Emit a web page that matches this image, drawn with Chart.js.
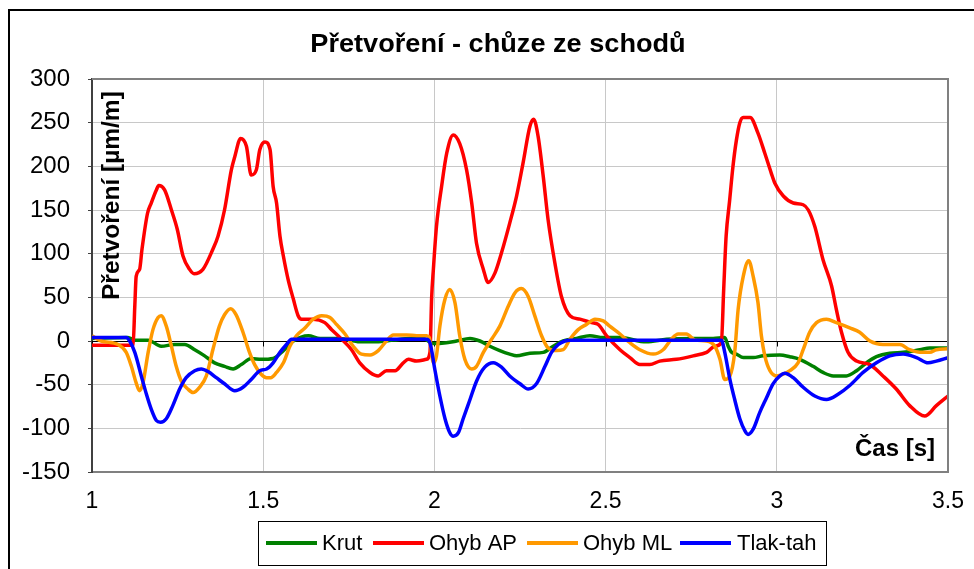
<!DOCTYPE html>
<html>
<head>
<meta charset="utf-8">
<title>Přetvoření - chůze ze schodů</title>
<script src="https://cdn.jsdelivr.net/npm/chart.js@4/dist/chart.umd.min.js"></script>
<style>
    html, body { margin: 0; padding: 0; background: #fff; }
    #wrap { width: 974px; height: 569px; }
</style>
</head>
<body>
<div id="wrap"><canvas id="strainChart" width="974" height="569"></canvas></div>
<script>
// Ticks
const xTicks = [1, 1.5, 2, 2.5, 3, 3.5];
const yTicks = [-150, -100, -50, 0, 50, 100, 150, 200, 250, 300];

// Series: [time s, strain µm/m]
const krut = [
    [1.000, 3], [1.105, 4], [1.125, 1], [1.164, 1], [1.202, -6], [1.241, -4], [1.271, -4],
    [1.300, -10], [1.329, -17], [1.358, -25], [1.387, -29], [1.412, -32], [1.436, -27],
    [1.465, -20], [1.494, -21], [1.529, -20], [1.559, -11], [1.588, 0], [1.632, 6], [1.666, 3],
    [1.724, 3], [1.782, -1], [1.831, -1], [1.880, 1], [1.928, 3], [1.967, 3], [1.997, -3],
    [2.035, -2], [2.065, 0], [2.104, 3], [2.133, 0], [2.162, -6], [2.191, -11], [2.220, -15],
    [2.240, -17], [2.279, -14], [2.318, -13], [2.347, -6], [2.376, 0], [2.415, 3], [2.454, 6],
    [2.493, 4], [2.542, 4], [2.619, -1], [2.678, 2], [2.756, 3], [2.814, 3], [2.848, 4],
    [2.858, -6], [2.868, -13], [2.882, -15], [2.902, -19], [2.931, -19], [2.960, -17],
    [3.009, -16], [3.038, -18], [3.067, -21], [3.106, -29], [3.135, -36], [3.165, -40],
    [3.203, -40], [3.233, -34], [3.262, -25], [3.291, -18], [3.330, -14], [3.369, -13],
    [3.418, -10], [3.447, -8], [3.500, -8]
];

const ohybAP = [
    [1.000, -5], [1.110, -5], [1.120, -4], [1.125, 40], [1.129, 74], [1.139, 82], [1.146, 105],
    [1.162, 146], [1.173, 158], [1.188, 173], [1.195, 178], [1.212, 173], [1.232, 150],
    [1.249, 128], [1.266, 97], [1.285, 82], [1.298, 77], [1.324, 82], [1.353, 105], [1.368, 120],
    [1.387, 150], [1.407, 196], [1.417, 211], [1.434, 232], [1.451, 223], [1.465, 190],
    [1.480, 196], [1.490, 219], [1.505, 228], [1.520, 219], [1.529, 177], [1.539, 158],
    [1.549, 120], [1.559, 97], [1.573, 70], [1.588, 48], [1.602, 29], [1.612, 25], [1.646, 25],
    [1.680, 21], [1.700, 13], [1.729, 2], [1.758, -10], [1.782, -25], [1.812, -36], [1.836, -40],
    [1.860, -34], [1.885, -34], [1.909, -25], [1.924, -21], [1.948, -23], [1.977, -21],
    [1.987, -13], [1.992, 50], [1.997, 82], [2.006, 131], [2.021, 177], [2.036, 215],
    [2.055, 236], [2.074, 226], [2.094, 196], [2.109, 158], [2.123, 112], [2.143, 82],
    [2.157, 67], [2.177, 78], [2.196, 101], [2.220, 135], [2.240, 166], [2.259, 204],
    [2.279, 246], [2.290, 254], [2.303, 234], [2.318, 188], [2.332, 139], [2.352, 89],
    [2.371, 51], [2.396, 29], [2.425, 25], [2.459, 21], [2.478, 19], [2.503, 6], [2.542, -10],
    [2.571, -19], [2.600, -27], [2.629, -27], [2.658, -23], [2.707, -21], [2.756, -17],
    [2.795, -13], [2.819, -6], [2.838, -2], [2.845, 60], [2.852, 120], [2.862, 160],
    [2.872, 200], [2.882, 230], [2.892, 250], [2.902, 256], [2.922, 256], [2.945, 238],
    [2.965, 215], [2.984, 192], [2.994, 181], [3.019, 166], [3.048, 158], [3.077, 156],
    [3.092, 150], [3.111, 131], [3.135, 93], [3.160, 63], [3.174, 36], [3.189, 10],
    [3.208, -13], [3.233, -23], [3.272, -27], [3.310, -40], [3.349, -55], [3.388, -74],
    [3.432, -86], [3.466, -74], [3.500, -63]
];

const ohybML = [
    [1.000, 6], [1.027, 0], [1.076, -4], [1.100, -13], [1.115, -29], [1.129, -48], [1.139, -57],
    [1.149, -48], [1.164, -13], [1.178, 13], [1.193, 27], [1.202, 29], [1.217, 17], [1.232, -6],
    [1.246, -29], [1.261, -46], [1.280, -55], [1.295, -59], [1.314, -53], [1.334, -40],
    [1.353, -10], [1.372, 17], [1.387, 30], [1.405, 37], [1.421, 30], [1.441, 10], [1.460, -13],
    [1.475, -27], [1.494, -38], [1.510, -42], [1.522, -42], [1.539, -36], [1.559, -25],
    [1.578, -6], [1.597, 6], [1.622, 15], [1.646, 25], [1.671, 29], [1.695, 27], [1.714, 19],
    [1.739, 8], [1.763, -6], [1.787, -15], [1.812, -16], [1.836, -11], [1.860, 0], [1.880, 7],
    [1.919, 7], [1.948, 6], [1.977, 6], [1.985, 4], [1.997, -25], [2.006, -17], [2.016, 17],
    [2.031, 48], [2.045, 59], [2.060, 44], [2.074, 6], [2.089, -21], [2.109, -32], [2.123, -29],
    [2.143, -13], [2.167, 2], [2.191, 17], [2.216, 40], [2.235, 55], [2.254, 60], [2.274, 51],
    [2.293, 29], [2.313, 6], [2.332, -8], [2.357, -11], [2.376, -10], [2.396, 2], [2.420, 13],
    [2.444, 19], [2.469, 25], [2.493, 23], [2.512, 17], [2.542, 8], [2.571, -2], [2.600, -10],
    [2.639, -15], [2.668, -10], [2.692, 2], [2.712, 8], [2.736, 8], [2.761, 1], [2.795, 0],
    [2.819, -6], [2.834, -21], [2.848, -44], [2.863, -40], [2.877, -13], [2.887, 36],
    [2.902, 74], [2.918, 92], [2.931, 74], [2.945, 44], [2.955, 6], [2.965, -17], [2.980, -34],
    [2.999, -40], [3.019, -38], [3.038, -34], [3.062, -25], [3.077, -10], [3.096, 10],
    [3.116, 21], [3.145, 25], [3.174, 21], [3.213, 15], [3.242, 10], [3.272, 0], [3.310, -4],
    [3.359, -4], [3.388, -10], [3.418, -13], [3.447, -13], [3.466, -10], [3.500, -9]
];

const tlakTah = [
    [1.000, 4], [1.100, 4], [1.110, 0], [1.125, -13], [1.144, -40], [1.159, -61], [1.173, -78],
    [1.188, -91], [1.200, -93], [1.217, -89], [1.236, -74], [1.256, -55], [1.275, -42],
    [1.300, -34], [1.319, -32], [1.339, -35], [1.363, -42], [1.387, -49], [1.417, -57],
    [1.441, -53], [1.465, -44], [1.490, -34], [1.510, -32], [1.529, -25], [1.549, -13],
    [1.568, -4], [1.583, 2], [1.977, 2], [1.987, -2], [2.001, -32], [2.016, -63], [2.031, -89],
    [2.045, -105], [2.055, -109], [2.070, -105], [2.084, -89], [2.104, -67], [2.123, -46],
    [2.147, -30], [2.172, -25], [2.196, -30], [2.220, -40], [2.250, -49], [2.274, -55],
    [2.298, -49], [2.323, -29], [2.342, -13], [2.362, -4], [2.381, 0], [2.396, 1], [2.838, 1],
    [2.848, -13], [2.863, -44], [2.877, -67], [2.892, -89], [2.907, -103], [2.916, -107],
    [2.931, -101], [2.950, -82], [2.970, -65], [2.989, -49], [3.009, -40], [3.023, -37],
    [3.048, -42], [3.077, -53], [3.111, -63], [3.145, -67], [3.179, -61], [3.213, -51],
    [3.252, -36], [3.291, -25], [3.330, -17], [3.369, -15], [3.408, -19], [3.442, -25],
    [3.466, -23], [3.500, -19]
];

const seriesNames = ['Krut', 'Ohyb AP', 'Ohyb ML', 'Tlak-tah'];
const seriesColors = ['#008000', '#ff0000', '#ff9900', '#0000ff'];

const FONT = "'Liberation Sans', Arial, sans-serif";

function toPoints(arr) {
    return arr.map(p => ({ x: p[0], y: p[1] }));
}

function makeDataset(i, arr) {
    return {
        label: seriesNames[i],
        data: toPoints(arr),
        borderColor: seriesColors[i],
        backgroundColor: seriesColors[i],
        borderWidth: 3.5,
        pointRadius: 0,
        cubicInterpolationMode: 'monotone',
        fill: false,
        // Excel draws later series on top
        order: 4 - i
    };
}

// text drawn a little wider, like the source picture
function wideText(ctx, text, x, y, sx) {
    ctx.save();
    ctx.translate(x, y);
    ctx.scale(sx, 1);
    ctx.fillText(text, 0, 0);
    ctx.restore();
}

// Frame, titles, legend and the zero-line ticks
const decorations = {
    id: 'decorations',
    beforeDraw(chart) {
        const ctx = chart.ctx;
        ctx.save();
        ctx.fillStyle = '#ffffff';
        ctx.fillRect(0, 0, chart.width, chart.height);
        ctx.restore();
    },
    beforeDatasetsDraw(chart) {
        const ctx = chart.ctx;
        const xs = chart.scales.x, ys = chart.scales.y;
        const y0 = Math.round(ys.getPixelForValue(0)) + 0.5;
        ctx.save();
        ctx.strokeStyle = '#000000';
        ctx.lineWidth = 1;
        ctx.beginPath();
        ctx.moveTo(chart.chartArea.left, y0);
        ctx.lineTo(chart.chartArea.right, y0);
        xTicks.forEach(v => {
            const px = Math.round(xs.getPixelForValue(v)) + 0.5;
            ctx.moveTo(px, y0);
            ctx.lineTo(px, y0 + 5);
        });
        ctx.stroke();
        ctx.restore();
    },
    afterDraw(chart) {
        const ctx = chart.ctx;
        const a = chart.chartArea;
        ctx.save();

        // plot border top / right
        ctx.strokeStyle = '#808080';
        ctx.lineWidth = 2;
        ctx.beginPath();
        ctx.moveTo(a.left, a.top);
        ctx.lineTo(a.right, a.top);
        ctx.lineTo(a.right, a.bottom);
        ctx.stroke();

        // outer frame (runs off the right and bottom edge)
        ctx.strokeStyle = '#000000';
        ctx.lineWidth = 2;
        ctx.strokeRect(9, 10, 1000, 600);

        ctx.fillStyle = '#000000';

        // chart title
        ctx.font = 'bold 25px ' + FONT;
        ctx.textAlign = 'center';
        ctx.textBaseline = 'alphabetic';
        wideText(ctx, 'Přetvoření - chůze ze schodů', 498, 52, 1.085);

        // x axis title
        ctx.font = 'bold 24px ' + FONT;
        ctx.textAlign = 'right';
        ctx.fillText('Čas [s]', 935, 456);

        // y axis title
        ctx.save();
        ctx.translate(119, 300);
        ctx.rotate(-Math.PI / 2);
        ctx.font = 'bold 24.5px ' + FONT;
        ctx.textAlign = 'left';
        ctx.fillText('Přetvoření [µm/m]', 0, 0);
        ctx.restore();

        // legend box
        ctx.strokeStyle = '#000000';
        ctx.lineWidth = 1;
        ctx.strokeRect(258.5, 521.5, 568, 44);
        const lineX = [266, 373, 527, 680];
        const textX = [322, 429, 583, 737];
        ctx.font = '22px ' + FONT;
        ctx.textAlign = 'left';
        ctx.textBaseline = 'middle';
        for (let i = 0; i < seriesNames.length; i++) {
            ctx.strokeStyle = seriesColors[i];
            ctx.lineWidth = 4;
            ctx.beginPath();
            ctx.moveTo(lineX[i], 543);
            ctx.lineTo(lineX[i] + 51, 543);
            ctx.stroke();
            ctx.fillStyle = '#000000';
            ctx.fillText(seriesNames[i], textX[i], 544);
        }
        ctx.restore();
    }
};

const ctx = document.getElementById('strainChart').getContext('2d');
const strainChart = new Chart(ctx, {
    type: 'line',
    data: {
        datasets: [
            makeDataset(0, krut),
            makeDataset(1, ohybAP),
            makeDataset(2, ohybML),
            makeDataset(3, tlakTah)
        ]
    },
    options: {
        responsive: false,
        animation: false,
        devicePixelRatio: 1,
        layout: {
            padding: { left: 0, right: 26, top: 79, bottom: 0 }
        },
        plugins: {
            legend: { display: false },
            title: { display: false },
            tooltip: { enabled: false }
        },
        scales: {
            x: {
                type: 'linear',
                min: xTicks[0],
                max: xTicks[xTicks.length - 1],
                afterBuildTicks: function(scale) {
                    scale.ticks = xTicks.map(v => ({ value: v }));
                },
                afterFit: function(scale) {
                    scale.height = 97;
                    // the first and last label may hang over the plot edges
                    scale.paddingLeft = 0;
                    scale.paddingRight = 0;
                },
                ticks: {
                    color: '#000000',
                    padding: 16,
                    maxRotation: 0,
                    font: { family: FONT, size: 23 },
                    callback: function(value) {
                        return String(value);
                    }
                },
                grid: {
                    color: '#c8c8c8',
                    lineWidth: 1,
                    drawTicks: false
                },
                border: {
                    color: '#808080',
                    width: 2
                }
            },
            y: {
                min: yTicks[0],
                max: yTicks[yTicks.length - 1],
                afterBuildTicks: function(scale) {
                    scale.ticks = yTicks.map(v => ({ value: v }));
                },
                afterFit: function(scale) {
                    scale.width = 92;
                },
                ticks: {
                    color: '#000000',
                    padding: 18,
                    font: { family: FONT, size: 24 },
                    callback: function(value) {
                        return String(value);
                    }
                },
                grid: {
                    color: function(c) {
                        return c.tick && c.tick.value === 0 ? '#000000' : '#c8c8c8';
                    },
                    lineWidth: 1,
                    tickLength: 4,
                    tickColor: '#404040'
                },
                border: {
                    color: '#404040',
                    width: 2
                }
            }
        }
    },
    plugins: [decorations]
});
</script>
</body>
</html>
